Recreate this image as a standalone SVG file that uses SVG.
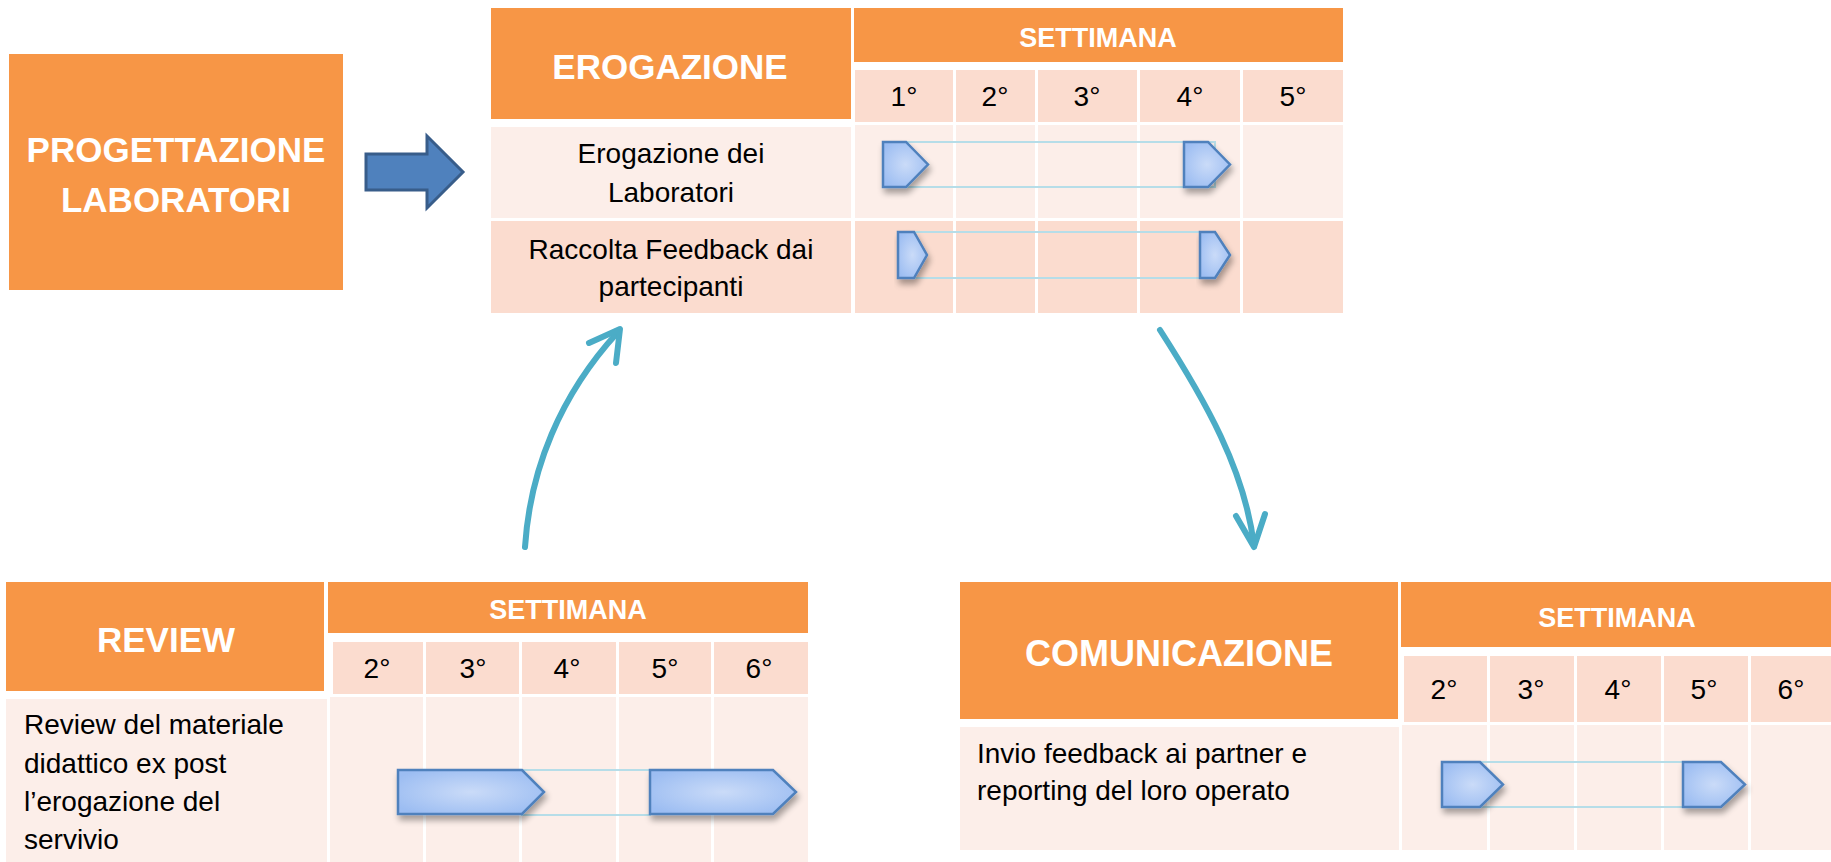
<svg xmlns="http://www.w3.org/2000/svg" width="1831" height="862" viewBox="0 0 1831 862">
<defs>
<radialGradient id="gb" cx="50%" cy="50%" r="60%">
<stop offset="0" stop-color="#CADBF8"/>
<stop offset="1" stop-color="#9CBDF2"/>
</radialGradient>
<filter id="sh" x="-20%" y="-20%" width="150%" height="160%">
<feGaussianBlur in="SourceAlpha" stdDeviation="3"/>
<feOffset dx="2" dy="5" result="o"/>
<feComponentTransfer><feFuncA type="linear" slope="0.35"/></feComponentTransfer>
<feMerge><feMergeNode/><feMergeNode in="SourceGraphic"/></feMerge>
</filter>
</defs>
<style>
.or{fill:#F79646}
.wk{fill:#FBDCCF}
.lt{fill:#FCEEE9}
.dk{fill:#FBDCCF}
.ht{font-family:"Liberation Sans",Arial,sans-serif;font-weight:bold;fill:#fff;text-anchor:middle}
.big{font-size:35px}
.st{font-size:27px}
.n{font-family:"Liberation Sans",Arial,sans-serif;font-size:28px;fill:#000;text-anchor:middle}
.tx{font-family:"Liberation Sans",Arial,sans-serif;font-size:28px;fill:#000}
.c{text-anchor:middle}
.bar{fill:url(#gb);stroke:#4F81BD;stroke-width:2.5;filter:url(#sh)}
.thin{fill:none;stroke:#B6DDE8;stroke-width:2}
.cv{fill:none;stroke:#4BACC6;stroke-width:6;stroke-linecap:round;stroke-linejoin:round}
</style>

<g id="progettazione">
<rect class="or" x="9" y="54" width="334" height="236"/>
<text class="ht" x="176" y="162" font-size="35">PROGETTAZIONE</text>
<text class="ht" x="176" y="212" font-size="35">LABORATORI</text>
</g>

<g id="erogazione">
<rect class="or" x="491" y="8" width="360" height="111"/>
<rect class="or" x="854" y="8" width="489" height="54"/>
<rect class="wk" x="855" y="70" width="98" height="52"/>
<rect class="wk" x="956" y="70" width="79" height="52"/>
<rect class="wk" x="1038" y="70" width="99" height="52"/>
<rect class="wk" x="1140" y="70" width="100" height="52"/>
<rect class="wk" x="1243" y="70" width="100" height="52"/>
<rect class="lt" x="491" y="127" width="360" height="91"/>
<rect class="lt" x="855" y="125" width="98" height="93"/>
<rect class="lt" x="956" y="125" width="79" height="93"/>
<rect class="lt" x="1038" y="125" width="99" height="93"/>
<rect class="lt" x="1140" y="125" width="100" height="93"/>
<rect class="lt" x="1243" y="125" width="100" height="93"/>
<rect class="dk" x="491" y="221" width="360" height="92"/>
<rect class="dk" x="855" y="221" width="98" height="92"/>
<rect class="dk" x="956" y="221" width="79" height="92"/>
<rect class="dk" x="1038" y="221" width="99" height="92"/>
<rect class="dk" x="1140" y="221" width="100" height="92"/>
<rect class="dk" x="1243" y="221" width="100" height="92"/>
<text class="ht big" x="670" y="79">EROGAZIONE</text>
<text class="ht st" x="1098" y="47">SETTIMANA</text>
<text class="n" x="904" y="106">1°</text>
<text class="n" x="995" y="106">2°</text>
<text class="n" x="1087" y="106">3°</text>
<text class="n" x="1190" y="106">4°</text>
<text class="n" x="1293" y="106">5°</text>
<text class="tx c" x="671" y="163">Erogazione dei</text>
<text class="tx c" x="671" y="202">Laboratori</text>
<text class="tx c" x="671" y="259">Raccolta Feedback dai</text>
<text class="tx c" x="671" y="296">partecipanti</text>
<rect class="thin" x="906" y="142" width="309" height="45"/>
<path class="bar" d="M883 142H906L928 164.5L906 187H883Z"/>
<path class="bar" d="M1184 142H1208L1230 164.5L1208 187H1184Z"/>
<rect class="thin" x="914" y="232" width="301" height="46"/>
<path class="bar" d="M898 232H914L927 255L914 278H898Z"/>
<path class="bar" d="M1200 232H1215L1230 255L1215 278H1200Z"/>
</g>

<g id="review">
<rect class="or" x="6" y="582" width="318" height="109"/>
<rect class="or" x="328" y="582" width="480" height="51"/>
<rect class="wk" x="333" y="642" width="90" height="52"/>
<rect class="wk" x="426" y="642" width="93" height="52"/>
<rect class="wk" x="522" y="642" width="94" height="52"/>
<rect class="wk" x="619" y="642" width="92" height="52"/>
<rect class="wk" x="714" y="642" width="94" height="52"/>
<rect class="lt" x="6" y="699" width="321" height="163"/>
<rect class="lt" x="330" y="697" width="93" height="165"/>
<rect class="lt" x="426" y="697" width="93" height="165"/>
<rect class="lt" x="522" y="697" width="94" height="165"/>
<rect class="lt" x="619" y="697" width="92" height="165"/>
<rect class="lt" x="714" y="697" width="94" height="165"/>
<text class="ht big" x="166" y="652">REVIEW</text>
<text class="ht st" x="568" y="619">SETTIMANA</text>
<text class="n" x="377" y="678">2°</text>
<text class="n" x="473" y="678">3°</text>
<text class="n" x="567" y="678">4°</text>
<text class="n" x="665" y="678">5°</text>
<text class="n" x="759" y="678">6°</text>
<text class="tx" x="24" y="734">Review del materiale</text>
<text class="tx" x="24" y="773">didattico ex post</text>
<text class="tx" x="24" y="811">l’erogazione del</text>
<text class="tx" x="24" y="849">servivio</text>
<rect class="thin" x="522" y="770" width="128" height="45"/>
<path class="bar" d="M398 770H522L544 792L522 814H398Z"/>
<path class="bar" d="M650 770H773L796 792L773 814H650Z"/>
</g>

<g id="comunicazione">
<rect class="or" x="960" y="582" width="438" height="137"/>
<rect class="or" x="1401" y="582" width="430" height="65"/>
<rect class="wk" x="1404" y="656" width="83" height="66"/>
<rect class="wk" x="1490" y="656" width="84" height="66"/>
<rect class="wk" x="1577" y="656" width="84" height="66"/>
<rect class="wk" x="1664" y="656" width="84" height="66"/>
<rect class="wk" x="1751" y="656" width="80" height="66"/>
<rect class="lt" x="960" y="727" width="439" height="123"/>
<rect class="lt" x="1402" y="725" width="85" height="125"/>
<rect class="lt" x="1490" y="725" width="84" height="125"/>
<rect class="lt" x="1577" y="725" width="84" height="125"/>
<rect class="lt" x="1664" y="725" width="84" height="125"/>
<rect class="lt" x="1751" y="725" width="80" height="125"/>
<text class="ht" x="1179" y="666" font-size="36">COMUNICAZIONE</text>
<text class="ht st" x="1617" y="627">SETTIMANA</text>
<text class="n" x="1444" y="699">2°</text>
<text class="n" x="1531" y="699">3°</text>
<text class="n" x="1618" y="699">4°</text>
<text class="n" x="1704" y="699">5°</text>
<text class="n" x="1791" y="699">6°</text>
<text class="tx" x="977" y="763">Invio feedback ai partner e</text>
<text class="tx" x="977" y="800">reporting del loro operato</text>
<rect class="thin" x="1480" y="762" width="203" height="45"/>
<path class="bar" d="M1442 762H1480L1503 784.5L1480 807H1442Z"/>
<path class="bar" d="M1683 762H1721L1745 784.5L1721 807H1683Z"/>
</g>

<g id="connectors">
<polygon points="366,154 427,154 427,136 463,172 427,208 427,190 366,190" fill="#4F81BD" stroke="#385D8A" stroke-width="3"/>
<path class="cv" d="M525 547C530 470 560 395 618 332"/>
<path class="cv" d="M589 343L620 329L616 363"/>
<path class="cv" d="M1160 330C1205 400 1245 470 1254 546"/>
<path class="cv" d="M1236 516L1254 547L1265 514"/>
</g>
</svg>
